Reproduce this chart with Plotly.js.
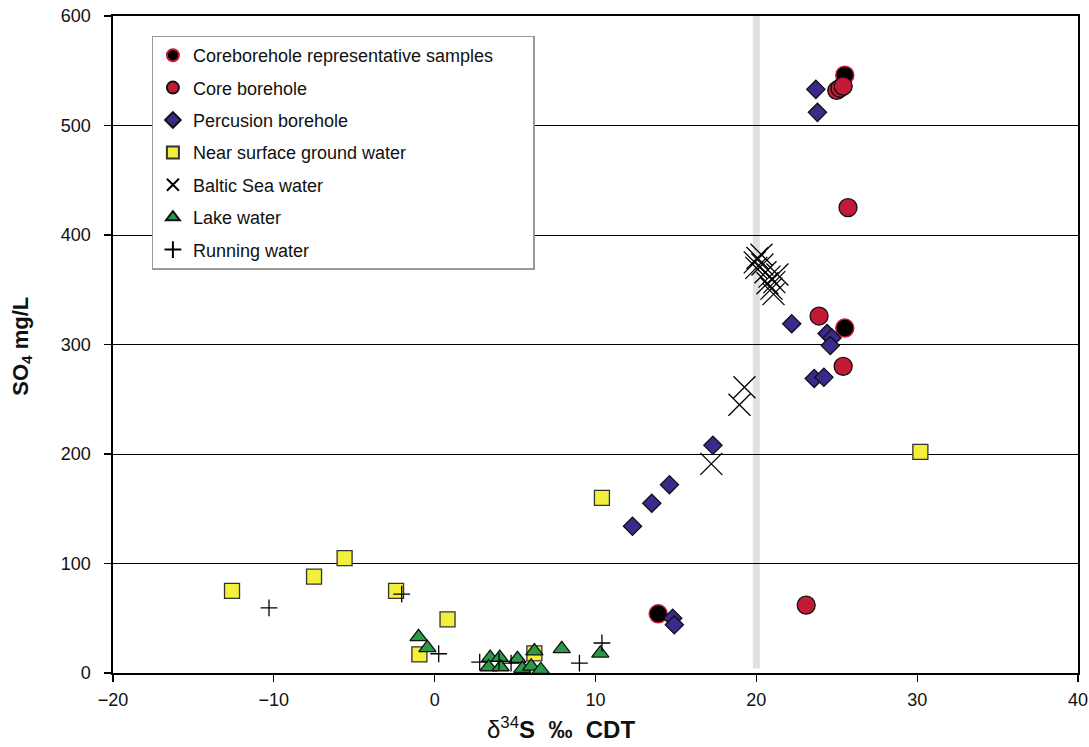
<!DOCTYPE html>
<html>
<head>
<meta charset="utf-8">
<script src="https://cdn.plot.ly/plotly-3.0.1.min.js"></script>
<style>
  html, body { margin: 0; padding: 0; background: #ffffff; }
  #chart { width: 1089px; height: 747px; }
</style>
</head>
<body>
<div id="chart"></div>
<script>
// δ34S (‰ CDT) versus SO4 (mg/L) for the sampled water types

const repX = [25.5, 25.5, 13.9];
const repY = [546, 315, 54];

const coreX = [25.0, 25.2, 25.4, 25.7, 23.9, 25.4, 23.1];
const coreY = [532, 534, 536, 425, 326, 280, 62];

const percX = [23.7, 23.8, 22.2, 24.4, 24.7, 24.6, 23.6, 24.2, 17.3, 14.6, 13.5, 12.3, 14.8, 14.9];
const percY = [533, 512, 319, 310, 306, 299, 269, 270, 208, 172, 155, 134, 50, 44];

const groundX = [-12.6, -7.5, -5.6, -2.4, 0.8, -0.95, 6.2, 10.4, 30.2];
const groundY = [75, 88, 105, 75, 49, 17, 18, 160, 202];

const balticX = [17.2, 18.95, 19.26, 19.9, 20.07, 20.32, 20.0, 20.38, 20.57, 20.82, 20.69, 20.94, 21.07, 21.31, 21.12];
const balticY = [191, 245, 261, 375, 379, 382, 370, 373, 366, 362, 356, 351, 346, 364, 357];

const lakeX = [-1.0, -0.45, 3.45, 3.35, 4.05, 4.1, 5.15, 5.45, 6.0, 6.2, 6.6, 7.9, 10.3];
const lakeY = [33, 23, 14, 5.5, 14, 5.5, 13, 4, 6, 20, 3, 22, 18];

const runX = [-10.3, -2.05, 0.25, 2.8, 4.0, 4.75, 9.0, 10.4];
const runY = [59.5, 72, 17.6, 10, 10.6, 9.1, 9.1, 27.4];

const seriesNames = [
  'Coreborehole representative samples',
  'Core borehole',
  'Percusion borehole',
  'Near surface ground water',
  'Baltic Sea water',
  'Lake water',
  'Running water'
];

const xTicks = [-20, -10, 0, 10, 20, 30, 40];
const yTicks = [0, 100, 200, 300, 400, 500, 600];
const xTitle = '\u03b4<sup>34</sup><b>S \u00a0\u2030 \u00a0CDT</b>';
const yTitle = '<b>SO<sub>4</sub> mg/L</b>';

const markerLine = w => ({ color: '#111111', width: w });

// the first (longest) entry gets trailing padding so the legend box has room on the right
const legendLabel = (name, i) => i === 0 ? name + '\u00a0'.repeat(7) : name;

const traces = [
  { x: repX, y: repY,
    marker: { symbol: 'circle', size: 18, color: '#000000', line: { color: '#c41a36', width: 1.5 } } },
  { x: coreX, y: coreY,
    marker: { symbol: 'circle', size: 18, color: '#c41a36', line: markerLine(1.3) } },
  { x: percX, y: percY,
    marker: { symbol: 'diamond', size: 14, color: '#3b2a8c', line: markerLine(1.3) } },
  { x: groundX, y: groundY,
    marker: { symbol: 'square', size: 15, color: '#f3ef3a', line: { color: '#333333', width: 1.3 } } },
  { x: balticX, y: balticY,
    marker: { symbol: 'x-thin', size: 22, color: '#000000', line: { color: '#000000', width: 1.3 } } },
  { x: lakeX, y: lakeY,
    marker: { symbol: 'triangle-up', size: 15, color: '#2b9a46', line: markerLine(1.3) } },
  { x: runX, y: runY,
    marker: { symbol: 'cross-thin', size: 12, color: '#000000', line: { color: '#000000', width: 1.3 } } }
].map((t, i) => Object.assign({
  type: 'scatter', mode: 'markers', name: legendLabel(seriesNames[i], i),
  legendgroup: 'g' + i, cliponaxis: false
}, t));

const font = 'Liberation Sans, Arial, sans-serif';

const layout = {
  width: 1089,
  height: 747,
  margin: { l: 113, r: 11, t: 16, b: 74 },
  paper_bgcolor: '#ffffff',
  plot_bgcolor: '#ffffff',
  font: { family: font, size: 16, color: '#111111' },
  showlegend: true,
  legend: {
    x: 0.04, y: 0.97, xanchor: 'left', yanchor: 'top',
    bgcolor: '#ffffff', bordercolor: '#9a9a9a', borderwidth: 1.3,
    font: { family: font, size: 18, color: '#111111' },
    tracegroupgap: 6,
    itemsizing: 'constant'
  },
  xaxis: {
    range: [-20, 40], tickvals: xTicks, ticktext: xTicks.map(v => v < 0 ? '\u2212' + Math.abs(v) : String(v)),
    ticks: 'outside', ticklen: 7, tickwidth: 1.3, tickcolor: '#000000',
    showline: true, linecolor: '#000000', linewidth: 1.6, mirror: true,
    showgrid: false, zeroline: false, ticklabelstandoff: 3,
    tickfont: { family: font, size: 18, color: '#111111' }
  },
  yaxis: {
    range: [0, 600], tickvals: yTicks,
    ticks: 'outside', ticklen: 7, tickwidth: 1.3, tickcolor: '#000000',
    showline: true, linecolor: '#000000', linewidth: 1.6, mirror: true,
    showgrid: true, gridcolor: '#000000', gridwidth: 1, zeroline: false,
    ticklabelstandoff: 10,
    tickfont: { family: font, size: 18, color: '#111111' }
  },
  annotations: [
    { text: xTitle, xref: 'paper', yref: 'paper', x: 0.464, y: -0.084,
      xanchor: 'center', yanchor: 'middle', showarrow: false,
      font: { family: font, size: 24, color: '#111111' } },
    { text: yTitle, xref: 'paper', yref: 'paper', x: -0.094, y: 0.497, textangle: -90,
      xanchor: 'center', yanchor: 'middle', showarrow: false,
      font: { family: font, size: 22, color: '#111111' } }
  ],
  shapes: [
    { type: 'line', layer: 'below', xref: 'x', yref: 'y', x0: 20, x1: 20, y0: 4, y1: 600,
      line: { color: '#e0e0e0', width: 7 } }
  ]
};

Plotly.newPlot('chart', traces, layout, { displayModeBar: false, staticPlot: true });
</script>
</body>
</html>
